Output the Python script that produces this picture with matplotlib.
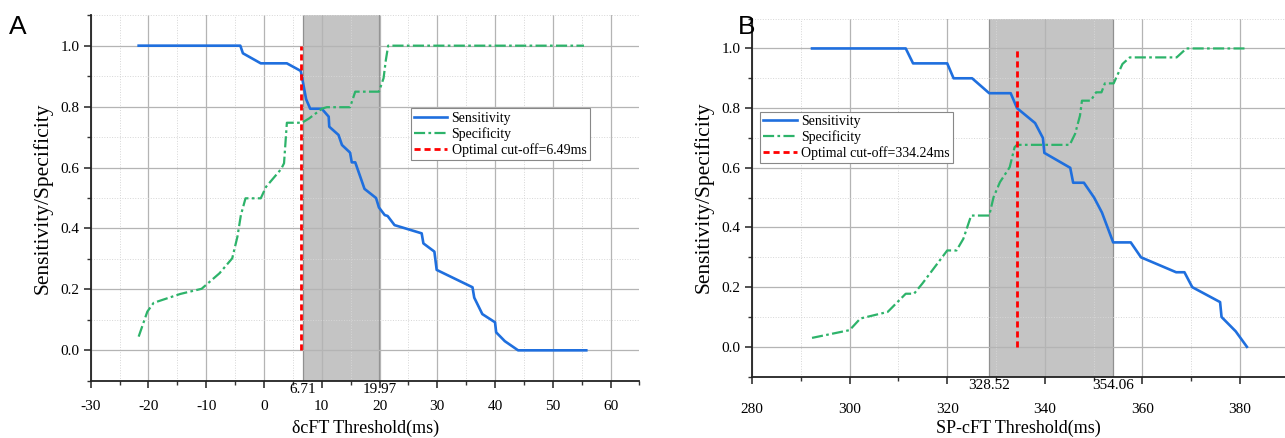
import matplotlib
matplotlib.use("Agg")
import matplotlib.pyplot as plt
from matplotlib.ticker import MultipleLocator
import matplotlib.transforms as mtransforms

plt.rcParams['font.family'] = ['Liberation Serif', 'DejaVu Serif']
plt.rcParams['axes.unicode_minus'] = False

# ---- panel A data (dcFT threshold, ms) ----
sens_a_x = [-21.7, -4.1, -3.65, -0.56, 3.96, 6.37, 7.3, 8.0, 10.0, 11.2, 11.3, 12.9, 13.5,
            14.9, 15.2, 15.8, 17.4, 19.4, 19.9, 20.9, 21.4, 22.6, 27.3, 27.6, 29.5, 29.9,
            36.1, 36.4, 37.8, 40.0, 40.2, 41.7, 44.0, 55.8]
sens_a_y = [1.0, 1.0, 0.975, 0.942, 0.942, 0.917, 0.824, 0.793, 0.793, 0.767, 0.734, 0.707, 0.674,
            0.649, 0.617, 0.617, 0.53, 0.5, 0.469, 0.444, 0.441, 0.411, 0.384, 0.351, 0.324, 0.264,
            0.207, 0.173, 0.119, 0.092, 0.059, 0.03, 0.0, 0.0]
spec_a_x = [-21.7, -20.2, -19.1, -14.5, -10.8, -7.7, -5.5, -4.6, -4.0, -3.2, -0.56, 0.37, 2.97,
            3.47, 3.96, 6.56, 7.8, 10.1, 10.9, 14.9, 15.8, 19.9, 20.7, 21.1, 21.5, 55.4]
spec_a_y = [0.045, 0.127, 0.156, 0.185, 0.202, 0.253, 0.302, 0.373, 0.444, 0.499, 0.499, 0.537, 0.595,
            0.614, 0.747, 0.747, 0.761, 0.794, 0.798, 0.798, 0.849, 0.849, 0.893, 0.953, 1.0, 1.0]
cutoff_a = 6.49
band_a = (6.71, 19.97)

# ---- panel B data (SP-cFT threshold, ms) ----
sens_b_x = [292.3, 311.5, 313.0, 320.0, 321.3, 325.1, 328.6, 333.0, 334.3, 338.0, 339.6, 339.9,
            345.2, 345.8, 348.0, 350.1, 351.7, 354.0, 357.6, 359.7, 366.9, 368.6, 370.2, 375.9,
            376.2, 379.1, 381.4]
sens_b_y = [1.0, 1.0, 0.95, 0.95, 0.9, 0.9, 0.85, 0.85, 0.8, 0.75, 0.7, 0.65,
            0.6, 0.55, 0.55, 0.5, 0.45, 0.35, 0.35, 0.3, 0.25, 0.25, 0.2, 0.15,
            0.1, 0.052, 0.0]
spec_b_x = [292.3, 300.0, 302.2, 307.8, 311.5, 313.2, 314.9, 320.0, 321.9, 323.3, 324.9, 328.6,
            329.5, 330.8, 332.8, 333.8, 334.3, 345.1, 346.2, 347.2, 347.6, 349.4, 350.5, 351.6,
            352.3, 354.1, 355.9, 357.4, 367.0, 369.0, 380.9]
spec_b_y = [0.03, 0.056, 0.095, 0.117, 0.178, 0.178, 0.212, 0.323, 0.323, 0.362, 0.44, 0.44,
            0.502, 0.552, 0.602, 0.669, 0.677, 0.677, 0.714, 0.775, 0.825, 0.825, 0.853, 0.853,
            0.883, 0.883, 0.948, 0.97, 0.97, 1.0, 1.0]
cutoff_b = 334.24
band_b = (328.52, 354.06)

blue = '#1f6fde'
green = '#2db36a'


def draw_panel(ax, sx, sy, px, py, cutoff, band, xlim, xmaj, xmin, xlabel, cut_label,
               leg_pos, xpad, xlab_y):
    ax.set_xlim(*xlim)
    ax.set_ylim(-0.1, 1.1)
    ax.xaxis.set_major_locator(MultipleLocator(xmaj))
    ax.xaxis.set_minor_locator(MultipleLocator(xmin))
    ax.yaxis.set_minor_locator(MultipleLocator(0.1))
    ax.set_yticks([0.0, 0.2, 0.4, 0.6, 0.8, 1.0])
    ax.set_yticklabels(['0.0', '0.2', '0.4', '0.6', '0.8', '1.0'])

    ax.grid(which='major', color='#b4b4b4', lw=0.9)
    ax.grid(which='minor', color='#d6d6d6', lw=0.7, ls=':')
    ax.set_axisbelow(True)

    ax.axvspan(band[0], band[1], facecolor='#c4c4c4', edgecolor='none', zorder=0.2)
    for b in band:
        ax.axvline(b, color='#909090', lw=0.9, zorder=0.3)

    ax.plot(sx, sy, color=blue, lw=1.9, label='Sensitivity', zorder=3)
    ax.plot(px, py, color=green, lw=1.6, dashes=(5, 1.5, 1.2, 1.5), label='Specificity', zorder=3)
    ax.vlines(cutoff, 0, 1, colors='#ff0000', lw=2.0, linestyles=(0, (2.2, 1.4)),
              label=cut_label, zorder=4)

    for s in ['top', 'right']:
        ax.spines[s].set_visible(False)
    for s in ['left', 'bottom']:
        ax.spines[s].set_linewidth(1.3)
        ax.spines[s].set_color('#222222')

    ax.tick_params(which='major', direction='out', length=5, width=1.2, color='#333333',
                   labelsize=11)
    ax.tick_params(which='minor', direction='out', length=3, width=1.0, color='#333333')
    ax.tick_params(axis='x', which='major', pad=xpad)
    ax.tick_params(axis='y', which='major', pad=3)

    trans = mtransforms.blended_transform_factory(ax.transData, ax.transAxes)
    for b in band:
        ax.text(b, -0.006, f'{b:.2f}', transform=trans, ha='center', va='top', fontsize=11)

    ax.set_xlabel(xlabel, fontsize=13)
    ax.xaxis.set_label_coords(0.5, xlab_y)
    ax.set_ylabel('Sensitivity/Specificity', fontsize=15.5, labelpad=6)

    leg = ax.legend(loc='upper left', bbox_to_anchor=leg_pos, fontsize=10, frameon=True,
                    fancybox=False, framealpha=1, edgecolor='#888888', handlelength=2.4,
                    handletextpad=0.3, labelspacing=0.15, borderpad=0.25, borderaxespad=0)
    leg.get_frame().set_linewidth(0.8)


fig = plt.figure(figsize=(12.85, 4.38), dpi=100)
ax1 = fig.add_axes([0.0706, 0.1306, 0.4270, 0.8347])
ax2 = fig.add_axes([0.5852, 0.1400, 0.4148, 0.8175])

draw_panel(ax1, sens_a_x, sens_a_y, spec_a_x, spec_a_y, cutoff_a, band_a, (-30, 65), 10, 5,
           'δcFT Threshold(ms)', 'Optimal cut-off=6.49ms', (0.583, 0.745), 9, -0.107)
draw_panel(ax2, sens_b_x, sens_b_y, spec_b_x, spec_b_y, cutoff_b, band_b, (280, 389.2), 20, 10,
           'SP-cFT Threshold(ms)', 'Optimal cut-off=334.24ms', (0.015, 0.74), 14, -0.121)

fig.text(0.007, 0.965, 'A', fontsize=19, family='Liberation Sans', va='top', ha='left')
fig.text(0.574, 0.965, 'B', fontsize=19, family='Liberation Sans', va='top', ha='left')

fig.savefig('out.png', dpi=100)
